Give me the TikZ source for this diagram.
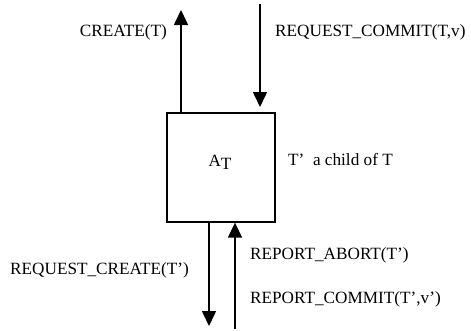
\documentclass[tikz,border=0pt]{standalone}
\usepackage{fontspec}
\setmainfont{Liberation Serif}
\usetikzlibrary{arrows.meta}
\begin{document}
\begin{tikzpicture}[x=1pt,y=-1pt,
  conn/.style={line width=1.6pt,-{Triangle[width=14pt,length=15pt]}},
  lbl/.style={font=\fontsize{17.2}{20}\selectfont,inner sep=0pt}]
\useasboundingbox (0,0) rectangle (471,330);
\node[draw,line width=1.3pt,minimum width=108pt,minimum height=109pt,inner sep=0pt] (box) at (221,167.5) {};
\node[lbl] (at) at (220,162) {A\raisebox{-3pt}{T}};
\coordinate (uptip) at (181,10);
\coordinate (downsrc) at (260,4);
\coordinate (downtip) at (260,107);
\coordinate (bdtip) at (209,326);
\coordinate (busrc) at (235,329);
\draw[conn] (box.north west -| uptip) -- (uptip);
\draw[conn] (downsrc) -- (downtip);
\draw[conn] (bdtip |- box.south) -- (bdtip);
\draw[conn] (busrc) -- (busrc |- box.south);
\node[lbl,anchor=east] (l1) at (167,32) {CREATE(T)};
\node[lbl,anchor=west] (l2) at (275,32) {REQUEST\_COMMIT(T,v)};
\node[lbl,anchor=west] (l3) at (288,160) {T'\ \ a child of T};
\node[lbl,anchor=west] (l4) at (10,270) {REQUEST\_CREATE(T')};
\node[lbl,anchor=west] (l5) at (250,255) {REPORT\_ABORT(T')};
\node[lbl,anchor=west] (l6) at (250,299) {REPORT\_COMMIT(T',v')};
\end{tikzpicture}
\end{document}
